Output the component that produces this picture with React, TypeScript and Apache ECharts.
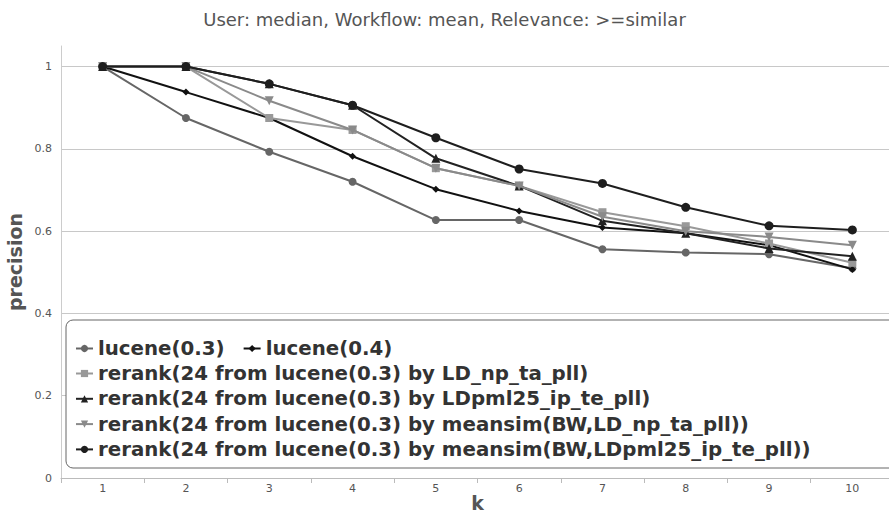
import React, { useEffect, useRef } from "react";
import * as echarts from "echarts";

const categories = ["1", "2", "3", "4", "5", "6", "7", "8", "9", "10"];
const yTicks = [0, 0.2, 0.4, 0.6, 0.8, 1];

const seriesNames = [
  "lucene(0.3)",
  "lucene(0.4)",
  "rerank(24 from lucene(0.3) by LD_np_ta_pll)",
  "rerank(24 from lucene(0.3) by LDpml25_ip_te_pll)",
  "rerank(24 from lucene(0.3) by meansim(BW,LD_np_ta_pll))",
  "rerank(24 from lucene(0.3) by meansim(BW,LDpml25_ip_te_pll))",
];

const lucene03 = [1, 0.875, 0.793, 0.72, 0.627, 0.627, 0.556, 0.548, 0.544, 0.51];
const lucene04 = [1, 0.938, 0.875, 0.782, 0.702, 0.649, 0.609, 0.595, 0.566, 0.507];
const rerankLDnp = [1, 1, 0.875, 0.846, 0.753, 0.71, 0.646, 0.612, 0.57, 0.523];
const rerankLDpml = [1, 1, 0.958, 0.906, 0.777, 0.71, 0.625, 0.595, 0.558, 0.539];
const rerankMeanLDnp = [1, 1, 0.917, 0.846, 0.753, 0.71, 0.635, 0.6, 0.586, 0.566];
const rerankMeanLDpml = [1, 1, 0.958, 0.906, 0.827, 0.751, 0.716, 0.658, 0.613, 0.603];

const seriesData = [lucene03, lucene04, rerankLDnp, rerankLDpml, rerankMeanLDnp, rerankMeanLDpml];
const seriesColors = ["#666666", "#111111", "#999999", "#222222", "#8a8a8a", "#1e1e1e"];
const seriesSymbols = ["circle", "diamond", "rect", "triangle", "path://M0,0 L10,0 L5,10 Z", "circle"];
const seriesSymbolSizes = [8, 7, 8, 9, 9, 9];

export default function App() {
  const ref = useRef<HTMLDivElement>(null);
  useEffect(() => {
    document.body.style.margin = "0";
    if (!ref.current) return;
    const chart = echarts.init(ref.current, null, { renderer: "svg" });
    const legendText = {
      fontFamily: "DejaVu Sans",
      fontWeight: "bold",
      fontSize: 19.8,
      color: "#333",
      lineHeight: 25,
    };
    const axisNameStyle = {
      fontFamily: "DejaVu Sans",
      fontWeight: "bold",
      fontSize: 19,
      lineHeight: 19,
      color: "#555",
    };
    chart.setOption({
      animation: false,
      backgroundColor: "#ffffff",
      title: {
        text: "User: median, Workflow: mean, Relevance: >=similar",
        left: "center",
        top: 5,
        textStyle: {
          fontFamily: "DejaVu Sans",
          fontWeight: "normal",
          fontSize: 18,
          color: "#555",
        },
      },
      grid: {
        left: 61,
        right: -5,
        top: 46,
        bottom: 38,
        containLabel: false,
        outerBoundsMode: "none",
      },
      xAxis: {
        type: "category",
        data: categories,
        boundaryGap: true,
        name: "k",
        nameLocation: "middle",
        nameGap: 15,
        nameMoveOverlap: false,
        nameTextStyle: axisNameStyle,
        axisLine: { lineStyle: { color: "#bbbbbb", width: 1 } },
        axisTick: { show: true, length: 5, lineStyle: { color: "#bbbbbb" } },
        axisLabel: { color: "#555", fontSize: 11, fontFamily: "DejaVu Sans", margin: 5 },
        splitLine: { show: false },
      },
      yAxis: {
        type: "value",
        min: 0,
        max: 1.05,
        interval: 0.2,
        name: "precision",
        nameLocation: "middle",
        nameGap: 37,
        nameMoveOverlap: false,
        nameTextStyle: axisNameStyle,
        axisLine: { show: true, lineStyle: { color: "#cccccc", width: 1 } },
        axisTick: { show: false },
        axisLabel: {
          color: "#555",
          fontSize: 11,
          fontFamily: "DejaVu Sans",
          margin: 9,
          showMaxLabel: false,
          formatter: (v: number) => (yTicks.some((t) => Math.abs(t - v) < 1e-6) ? String(Math.round(v * 10) / 10) : ""),
        },
        splitLine: { show: true, showMaxLine: false, showMinLine: false, lineStyle: { color: "#c8c8c8", width: 1 } },
      },
      graphic: [
        {
          type: "rect",
          z: 10,
          shape: { x: 66, y: 320, width: 840, height: 148, r: 7 },
          style: { fill: "#ffffff", stroke: "#666666", lineWidth: 1 },
        },
      ],
      legend: [
        {
          data: seriesNames.slice(0, 2),
          orient: "horizontal",
          left: 75,
          top: 336,
          itemWidth: 17,
          itemHeight: 9,
          itemGap: 18,
          z: 20,
          textStyle: legendText,
          padding: 0,
        },
        {
          data: seriesNames.slice(2),
          orient: "vertical",
          left: 75,
          top: 361,
          itemWidth: 17,
          itemHeight: 9,
          itemGap: 0.3,
          z: 20,
          textStyle: legendText,
          padding: 0,
        },
      ],
      series: seriesNames.map((name, i) => ({
        name,
        type: "line",
        data: seriesData[i],
        symbol: seriesSymbols[i],
        symbolSize: seriesSymbolSizes[i],
        showAllSymbol: true,
        lineStyle: { color: seriesColors[i], width: 2 },
        itemStyle: { color: seriesColors[i] },
        z: 2 + i,
      })),
    });
    return () => chart.dispose();
  }, []);
  return <div ref={ref} style={{ width: 889, height: 516 }} />;
}
